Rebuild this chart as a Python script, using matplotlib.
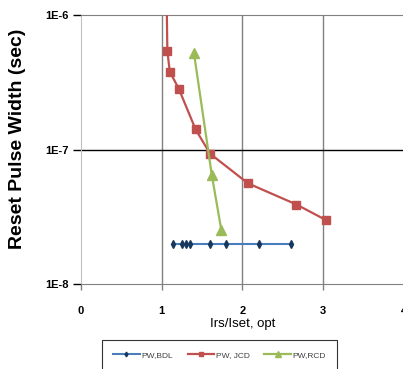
import numpy as np
import matplotlib
matplotlib.use("Agg")
import matplotlib.pyplot as plt

plt.rcParams['font.family'] = ['Liberation Sans', 'DejaVu Sans']

# Reset pulse width vs Irs/Iset,opt
bdl_x = [1.14, 1.25, 1.30, 1.35, 1.60, 1.80, 2.20, 2.60]
bdl_y = [2.0e-8] * 8
jcd_x = [1.06, 1.07, 1.10, 1.215, 1.42, 1.60, 2.07, 2.67, 3.03]
jcd_y = [1.5e-6, 5.4e-7, 3.8e-7, 2.8e-7, 1.41e-7, 9.3e-8, 5.6e-8, 3.9e-8, 3.0e-8]
rcd_x = [1.40, 1.62, 1.74]
rcd_y = [5.2e-7, 6.5e-8, 2.5e-8]

xticks = [0, 1, 2, 3, 4]
yticks = [1e-8, 1e-7, 1e-6]
ylabels = ["1E-8", "1E-7", "1E-6"]

fig = plt.figure(figsize=(4.03, 3.69), dpi=100)
ax = fig.add_axes([81 / 403, 85 / 369, 322.8 / 403, 269 / 369])

ax.plot(bdl_x, bdl_y, color="#4a7ebb", lw=1.5, marker="d", ms=4,
        mfc="#17375e", mec="#17375e", label="PW,BDL", zorder=3)
ax.plot(jcd_x, jcd_y, color="#c0504d", lw=1.6, marker="s", ms=5.5,
        mfc="#c0504d", mec="#c0504d", label="PW, JCD", zorder=4)
ax.plot(rcd_x, rcd_y, color="#9bbb59", lw=1.6, marker="^", ms=6.5,
        mfc="#9bbb59", mec="#9bbb59", label="PW,RCD", zorder=5)

ax.set_yscale("log")
ax.set_ylim(1e-8, 1e-6)
ax.set_xlim(0, 4)
ax.set_yticks(yticks)
ax.set_yticklabels(ylabels)
ax.minorticks_off()
ax.set_xticks(xticks)
ax.set_xticklabels([str(t) for t in xticks])

for x in [1, 2, 3]:
    ax.axvline(x, color="#808080", lw=1.0, zorder=1)
ax.axhline(1e-7, color="black", lw=1.0, zorder=1)

ax.spines["left"].set_color("#c0c0c0")
ax.spines["bottom"].set_color("#808080")
ax.spines["top"].set_color("#808080")
ax.spines["right"].set_visible(False)

ax.tick_params(axis="y", length=6, width=1, color="black", pad=3,
               labelsize=8)
ax.tick_params(axis="x", length=4, width=1, color="#808080", pad=12,
               labelsize=8)
for lab in ax.get_xticklabels() + ax.get_yticklabels():
    lab.set_fontweight("bold")

ax.set_xlabel("Irs/Iset, opt", fontsize=9.5, labelpad=1)
fig.text(18 / 403, 0.623, "Reset Pulse Width (sec)", rotation=90,
         fontsize=14, fontweight="bold", ha="center", va="center")

leg = ax.legend(loc="upper left", bbox_to_anchor=(102 / 403, 29 / 369, 235 / 403, 0),
                bbox_transform=fig.transFigure, ncol=3, fontsize=6, frameon=True,
                fancybox=False, edgecolor="black", handlelength=3.2, markerscale=0.6,
                columnspacing=1.5, borderpad=1.3, handletextpad=0.2, mode="expand",
                borderaxespad=0)
leg.get_frame().set_linewidth(0.8)
for t in leg.get_texts():
    t.set_color("#404040")

fig.savefig("out.png", dpi=100)
